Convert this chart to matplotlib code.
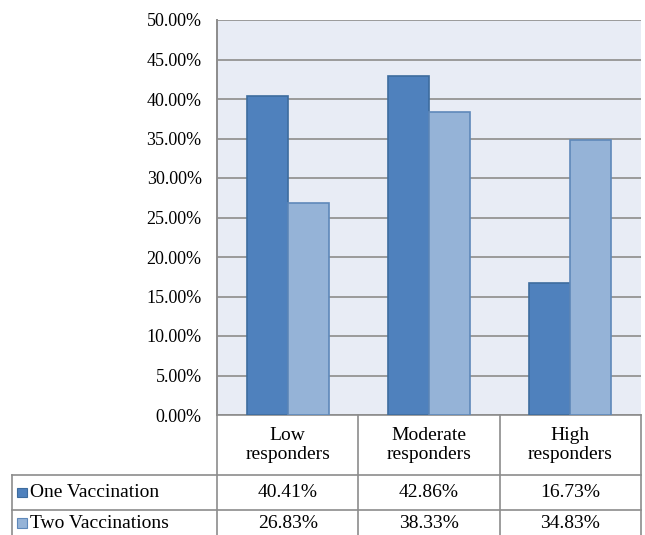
import matplotlib.pyplot as plt
from matplotlib.patches import Rectangle
import numpy as np

plt.rcParams['font.family'] = ['Liberation Serif', 'DejaVu Serif']

categories = ['Low\nresponders', 'Moderate\nresponders', 'High\nresponders']
series_names = ['One Vaccination', 'Two Vaccinations']
one_vacc = [40.41, 42.86, 16.73]
two_vacc = [26.83, 38.33, 34.83]
yticks = [0, 5, 10, 15, 20, 25, 30, 35, 40, 45, 50]

fills = ['#4F81BD', '#95B3D7']
edges = ['#3D6C9E', '#5E88BA']
grid_c = '#9A9A9A'
line_c = '#8C8C8C'

fig = plt.figure(figsize=(6.45, 5.35), dpi=100)
ax = fig.add_axes([217 / 645, 1 - 415 / 535, 424 / 645, 395 / 535])
ax.set_facecolor('#E8ECF5')

x = np.arange(len(categories))
w = 0.29
values = [one_vacc, two_vacc]
for k, vals in enumerate(values):
    ax.bar(x + (k - 0.5) * w, vals, w, color=fills[k], edgecolor=edges[k],
           linewidth=1.2, zorder=3)

ax.set_xlim(-0.5, 2.5)
ax.set_ylim(0, 50)
ax.set_yticks(yticks)
ax.set_yticklabels([f'{t:.2f}%' for t in yticks], fontsize=13)
ax.set_xticks([])
ax.tick_params(axis='y', length=0, pad=11)
ax.yaxis.grid(True, color=grid_c, linewidth=1.4, zorder=1)
ax.set_axisbelow(True)
for side in ['top', 'right', 'bottom']:
    ax.spines[side].set_visible(False)
ax.spines['left'].set_color(line_c)
ax.spines['left'].set_linewidth(1.4)

# data table under the plot, in axes coordinates
h_ax = 395.0
y_cat = -60 / h_ax
y_r1 = -95 / h_ax
y_r2 = -125 / h_ax
x_left = (12 - 217) / 424.0 * 3 - 0.5


def hline(y, x0, x1):
    ax.plot([x0, x1], [y, y], color=line_c, lw=1.2, clip_on=False,
            transform=ax.get_xaxis_transform())


def vline(xv, y0, y1):
    ax.plot([xv, xv], [y0, y1], color=line_c, lw=1.2, clip_on=False,
            transform=ax.get_xaxis_transform())


hline(0, -0.5, 2.5)
hline(y_cat, x_left, 2.5)
hline(y_r1, x_left, 2.5)
for xv in [-0.5, 0.5, 1.5, 2.5]:
    vline(xv, y_r2, 0)
vline(x_left, y_r2, y_cat)

tr = ax.get_xaxis_transform()
for i, cat in enumerate(categories):
    ax.text(i, y_cat / 2, cat, ha='center', va='center', fontsize=14,
            linespacing=1.2, transform=tr)

row_y = [(y_cat + y_r1) / 2, (y_r1 + y_r2) / 2 + 0.005]
for k, vals in enumerate(values):
    for i, v in enumerate(vals):
        ax.text(i, row_y[k], f'{v:.2f}%', ha='center', va='center',
                fontsize=14, transform=tr)
    ax.add_patch(Rectangle((x_left + 0.035, row_y[k] - 0.0125), 0.07, 0.025,
                           facecolor=fills[k], edgecolor=edges[k], lw=0.8,
                           transform=tr, clip_on=False))
    ax.text(x_left + 0.125, row_y[k], series_names[k], ha='left', va='center',
            fontsize=14, transform=tr)

fig.savefig('out.png', dpi=100)
